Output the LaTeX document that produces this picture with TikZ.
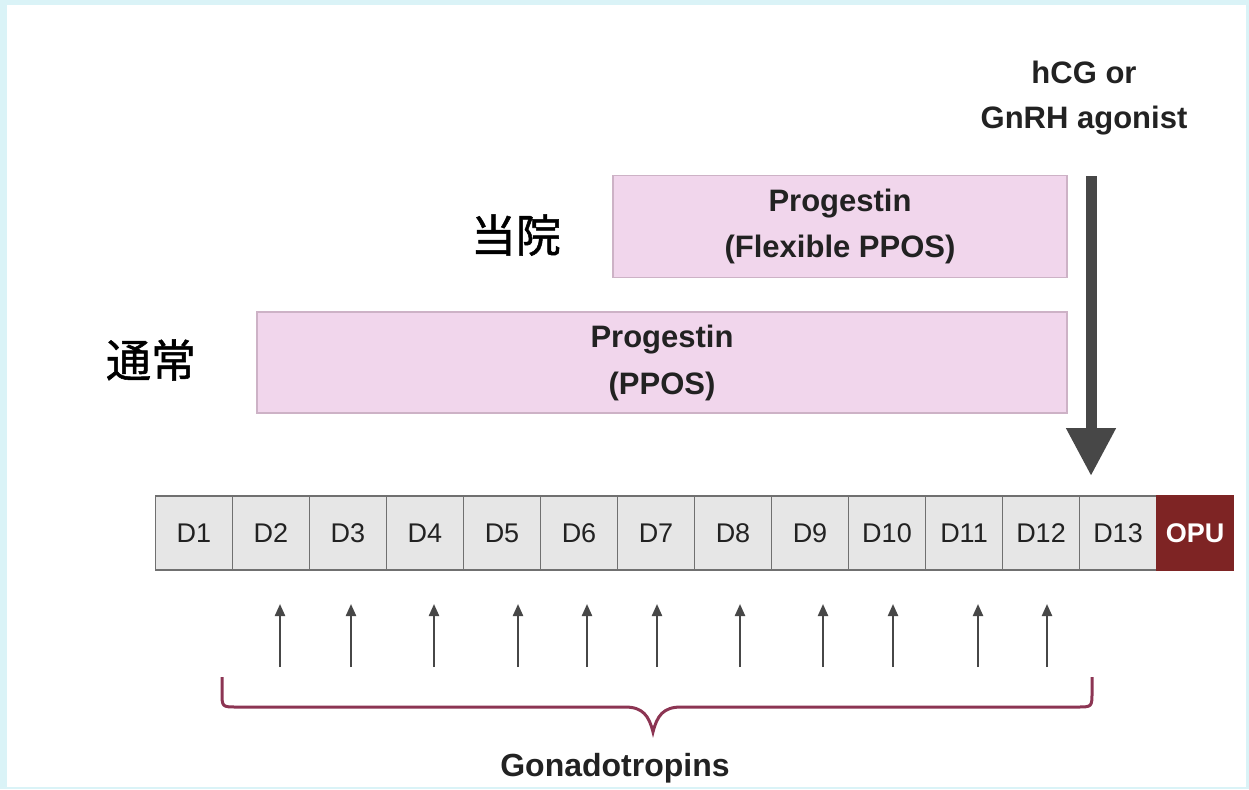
\documentclass[tikz,border=0pt]{standalone}
\usepackage{fontspec}
\setmainfont{Liberation Sans}
\newfontfamily\cjk{Noto Sans CJK JP}[FakeBold=1.2]
\usetikzlibrary{arrows.meta}
\definecolor{frameblue}{HTML}{DAF3F7}
\definecolor{pinkfill}{HTML}{F1D6EC}
\definecolor{pinkline}{HTML}{CDB2C6}
\definecolor{dayfill}{HTML}{E6E6E6}
\definecolor{dayline}{HTML}{707070}
\definecolor{opufill}{HTML}{7E2424}
\definecolor{bracecol}{HTML}{8C3553}
\definecolor{arrowgray}{HTML}{474747}
\definecolor{txt}{HTML}{222222}
\tikzset{
  pinkbox/.style={draw=pinkline, line width=1.5pt, fill=pinkfill, inner sep=0pt, align=center,
    text=txt, font=\fontsize{31}{46}\selectfont\bfseries},
  daybox/.style={draw=dayline, line width=1.8pt, fill=dayfill, minimum width=77pt, minimum height=74pt,
    inner sep=0pt, text height=19.5pt, text depth=0pt, text=txt, font=\fontsize{27}{30}\selectfont},
  opubox/.style={daybox, fill=opufill, draw=opufill, text=white, font=\fontsize{27}{30}\selectfont\bfseries},
  label/.style={text=txt, align=center, font=\fontsize{31}{45}\selectfont\bfseries},
  jlabel/.style={text=black, font=\fontsize{45}{50}\selectfont\cjk},
  bigarrow/.style={draw=arrowgray, line width=11pt, -{Triangle[width=47pt,length=48pt]}},
  smallarrow/.style={draw=arrowgray, line width=2.2pt, -{Triangle[width=10pt,length=12pt]}},
  bracepath/.style={draw=bracecol, line width=3pt}
}
\begin{document}
\begin{tikzpicture}[x=1pt,y=-1pt]
\fill[frameblue] (0,0) rectangle (1249,789);
\fill[white] (7,5) rectangle (1246,787);
\useasboundingbox (0,0) rectangle (1249,789);

% progestin boxes
\node[pinkbox, minimum width=454pt, minimum height=102pt] (flex) at (840,226.5) {Progestin\\(Flexible PPOS)};
\node[pinkbox, minimum width=810pt, minimum height=101pt] (ppos) at (662,362.5) {Progestin\\[1pt](PPOS)};

% Japanese labels
\node[jlabel] (toin) at (516,235) {当院};
\node[jlabel] (tsujo) at (151,360) {通常};

% trigger label and arrow
\node[label] (trig) at (1084,98) {hCG or\\GnRH agonist};
\coordinate (trigtop) at (1091,176);
\coordinate (trigend) at (1091,476);
\draw[bigarrow] (trigtop) -- (trigend);

% day boxes
\foreach \i in {1,...,13}{
  \node[daybox] (d\i) at ({155.5+77*(\i-1)+38.5},533) {D\i};
}
\node[opubox] (opu) at ({155.5+77*13+38.5},533) {OPU};

% gonadotropin arrows
\foreach [count=\k] \x in {280,351,434,518,587,657,740,823,893,978,1047}{
  \coordinate (gs\k) at (\x,667);
  \coordinate (ge\k) at (\x,604);
  \draw[smallarrow] (gs\k) -- (ge\k);
}

% brace
\coordinate (bl) at (222,677);
\coordinate (br) at (1092,677);
\coordinate (bm) at (653,732);
\draw[bracepath] (bl) -- (222,692) .. controls (222,707) .. (237,707) -- (625,707)
  .. controls (643,707) and (649,716) .. (bm)
  .. controls (657,716) and (663,707) .. (681,707) -- (1077,707)
  .. controls (1092,707) .. (1092,692) -- (br);

\node[label, font=\fontsize{32}{40}\selectfont\bfseries] (gona) at (615,768) {Gonadotropins};
\end{tikzpicture}
\end{document}
